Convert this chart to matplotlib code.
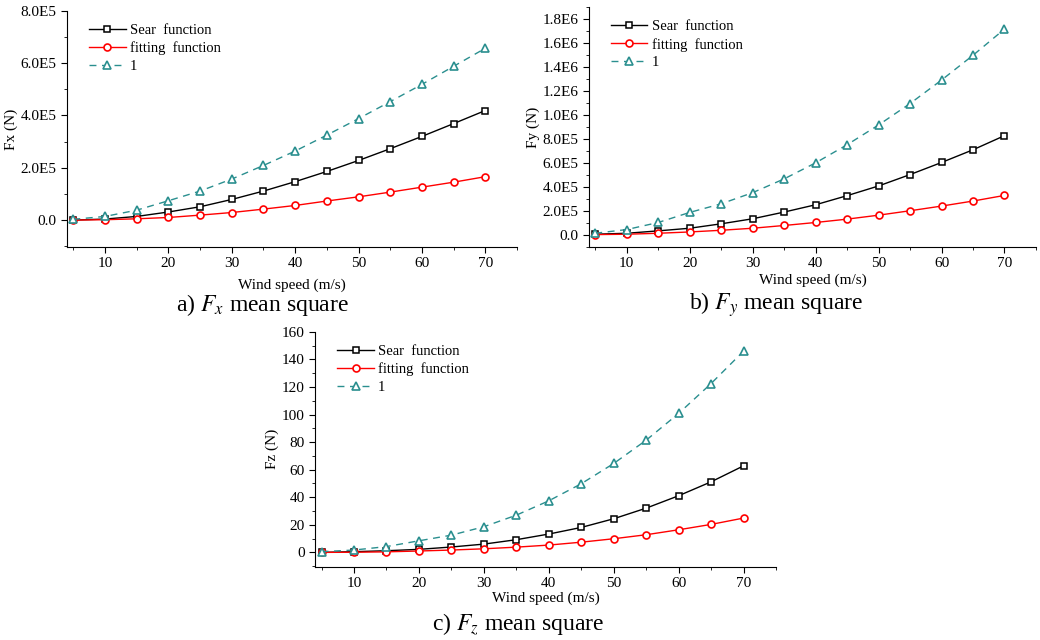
import numpy as np
import matplotlib
matplotlib.use("Agg")
import matplotlib.pyplot as plt
from matplotlib.ticker import MultipleLocator, FuncFormatter

plt.rcParams['font.family'] = ['Liberation Serif', 'DejaVu Serif']
plt.rcParams['mathtext.fontset'] = 'stix'

## dati ##
speed = [5, 10, 15, 20, 25, 30, 35, 40, 45, 50, 55, 60, 65, 70]

fx_sear = [0, 4e3, 1.4e4, 3.1e4, 5.1e4, 7.9e4, 1.11e5, 1.47e5, 1.86e5, 2.28e5, 2.73e5, 3.2e5, 3.69e5, 4.19e5]
fx_fit = [0, 1.5e3, 5e3, 1.0e4, 1.9e4, 2.9e4, 4.2e4, 5.6e4, 7.3e4, 8.9e4, 1.07e5, 1.26e5, 1.45e5, 1.66e5]
fx_one = [3e3, 1.4e4, 3.8e4, 7.4e4, 1.11e5, 1.57e5, 2.09e5, 2.64e5, 3.25e5, 3.88e5, 4.53e5, 5.19e5, 5.88e5, 6.57e5]

fy_sear = [3e3, 1.1e4, 3.1e4, 5.3e4, 9.0e4, 1.32e5, 1.88e5, 2.49e5, 3.25e5, 4.06e5, 5.01e5, 6.02e5, 7.08e5, 8.26e5]
fy_fit = [0, 3e3, 1.1e4, 2.2e4, 3.6e4, 5.3e4, 7.6e4, 1.01e5, 1.29e5, 1.62e5, 1.99e5, 2.38e5, 2.8e5, 3.27e5]
fy_one = [1.1e4, 4.2e4, 1.01e5, 1.85e5, 2.57e5, 3.5e5, 4.65e5, 5.99e5, 7.5e5, 9.15e5, 1.094e6, 1.29e6, 1.497e6, 1.716e6]

fz_sear = [0, 0.5, 1.2, 2.2, 3.9, 6.0, 9.2, 13.3, 18.1, 24.4, 32.1, 41.1, 51.2, 62.8]
fz_fit = [0, 0.1, 0.4, 1.0, 1.7, 2.6, 3.8, 5.3, 7.4, 9.9, 12.8, 16.4, 20.3, 24.9]
fz_one = [0.5, 1.7, 4.2, 8.4, 12.5, 18.6, 27.0, 37.4, 49.8, 64.5, 81.4, 100.8, 122.5, 146.0]

labels = ["Sear  function", "fitting  function", "1"]
teal = "#2a8f8f"


def sci_fmt(v, pos):
    # formato tipo Origin: 2.0E5
    if abs(v) < 1e-9:
        return "0.0"
    e = int(np.floor(np.log10(abs(v))))
    return "%.1fE%d" % (v / 10**e, e)


def draw(ax, s, f, o, ylab, ylim, ystep, fmt=None, xpad=1):
    ax.plot(speed, s, color="black", lw=1, marker="s", ms=4.5, mfc="white", mew=1.1, label=labels[0])
    ax.plot(speed, f, color="red", lw=1, marker="o", ms=5, mfc="white", mew=1.2, label=labels[1])
    ax.plot(speed, o, color=teal, lw=1, ls=(0, (5, 4)), marker="^", ms=6, mfc="white", mew=1.2, label=labels[2])
    ax.set_xlim(4, 75)
    ax.set_ylim(*ylim)
    ax.spines['top'].set_visible(False)
    ax.spines['right'].set_visible(False)
    ax.xaxis.set_major_locator(MultipleLocator(10))
    ax.xaxis.set_minor_locator(MultipleLocator(5))
    ax.yaxis.set_major_locator(MultipleLocator(ystep))
    ax.yaxis.set_minor_locator(MultipleLocator(ystep / 2))
    if fmt is not None:
        ax.yaxis.set_major_formatter(FuncFormatter(fmt))
    ax.tick_params(which="major", direction="out", length=4, labelsize=11)
    ax.tick_params(which="minor", direction="out", length=2.5)
    ax.set_xlabel("Wind speed (m/s)", fontsize=11, labelpad=xpad)
    ax.set_ylabel(ylab, fontsize=11, labelpad=2)
    ax.legend(loc="upper left", frameon=False, fontsize=10.5, handlelength=2.5,
              handletextpad=0.3, borderaxespad=0.5, labelspacing=0.3,
              bbox_to_anchor=(0.02, 1.0))


fig = plt.figure(figsize=(10.4, 6.4), dpi=100)

ax1 = fig.add_axes([0.0644, 0.614, 0.4327, 0.369])
draw(ax1, fx_sear, fx_fit, fx_one, "Fx (N)", (-1.03e5, 8e5), 2e5, sci_fmt, xpad=6)

ax2 = fig.add_axes([0.5663, 0.614, 0.4298, 0.375])
draw(ax2, fy_sear, fy_fit, fy_one, "Fy (N)", (-1.04e5, 1.9e6), 2e5, sci_fmt, xpad=2)

ax3 = fig.add_axes([0.3029, 0.1145, 0.4433, 0.367])
draw(ax3, fz_sear, fz_fit, fz_one, "Fz (N)", (-10.4, 160), 20)

fig.text(262 / 1040, 1 - 305 / 640, "a) $F_x$ mean square", fontsize=17, ha="center", va="center")
fig.text(776 / 1040, 1 - 305 / 640, "b) $F_y$ mean square", fontsize=17, ha="center", va="center")
fig.text(518 / 1040, 1 - 624 / 640, "c) $F_z$ mean square", fontsize=17, ha="center", va="center")

fig.savefig("out.png", dpi=100)
